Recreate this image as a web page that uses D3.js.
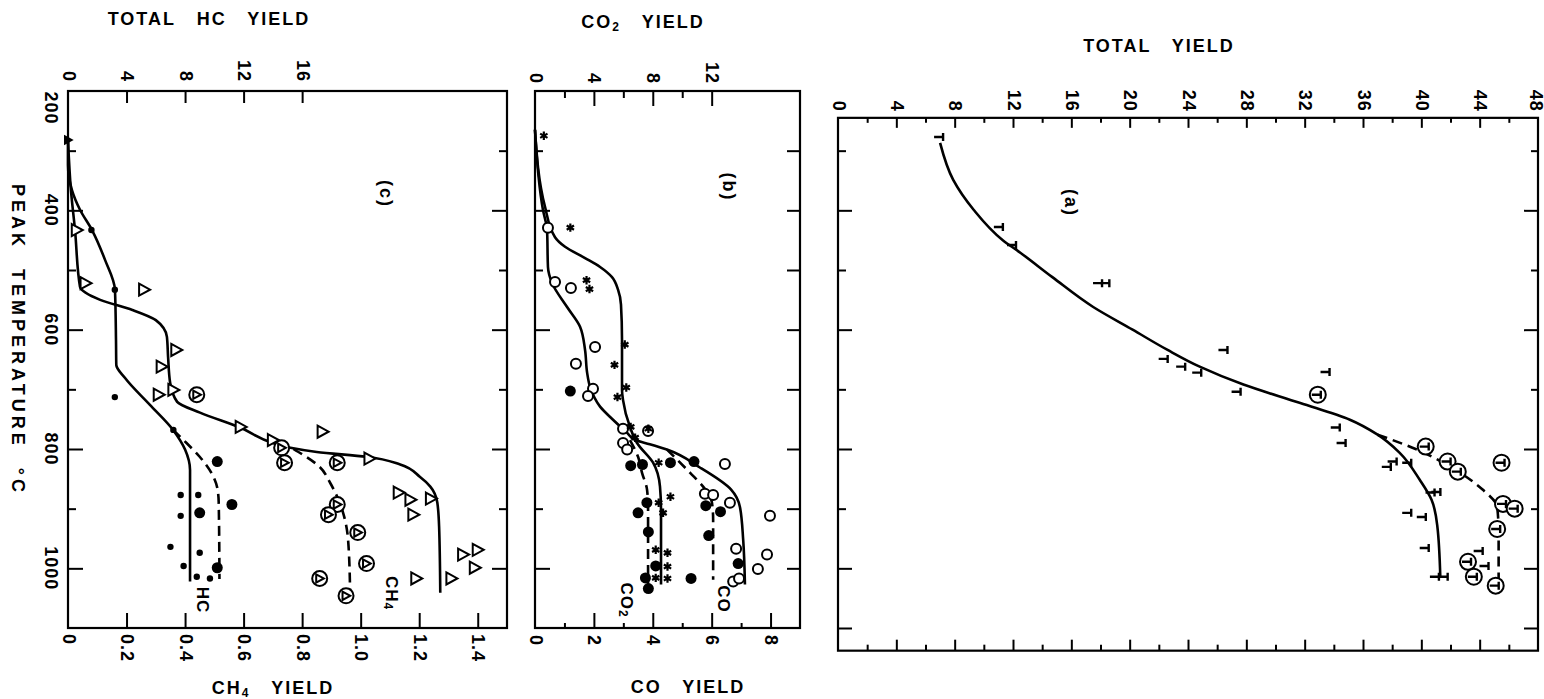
<!DOCTYPE html>
<html>
<head>
<meta charset="utf-8">
<script src="https://cdn.jsdelivr.net/npm/d3@7"></script>
<style>
body { margin: 0; background: #fff; }
svg text { font-family: "Liberation Sans", Arial, sans-serif; font-weight: bold; fill: #000; }
.tick line { stroke: #000; stroke-width: 2; }
.tick text { font-size: 18px; letter-spacing: 1px; }
.title { font-size: 18px; letter-spacing: 2px; word-spacing: 14px; }
</style>
</head>
<body>
<script>
// all pairs are [peak temperature °C, yield]

// panel (c): total hydrocarbons (top axis) and methane (bottom axis)
var hcDots = [[433,1.6],[533,3.2],[713,3.2],[768,7.2],[877,7.7],[877,8.9],[912,7.7],[964,7.0],[974,9.0],[996,7.9],[1014,8.8],[1017,9.7]];
var hcBigDots = [[821,10.2],[893,11.2],[907,9.0],[999,10.2]];
var ch4Zero = [[282,0.0]];
var ch4Tri = [[433,0.03],[522,0.06],[533,0.26],[634,0.37],[662,0.32],[701,0.36],[709,0.31],[763,0.59],[771,0.87],[785,0.70],[816,1.03],[873,1.13],[885,1.17],[910,1.18],[883,1.24],[977,1.35],[969,1.40],[999,1.39],[1017,1.19],[1017,1.31]];
var ch4CircTri = [[709,0.44],[798,0.73],[823,0.74],[823,0.92],[893,0.92],[910,0.89],[940,0.99],[992,1.02],[1017,0.86],[1046,0.95]];
var hcSolid = [[282,0],[324,0],[366,0.27],[399,0.82],[433,1.64],[483,2.53],[533,3.21],[617,3.28],[659,3.3],[681,3.9],[726,5.6],[768,7.18],[801,8.0],[835,8.34],[1022,8.34]];
var hcDashed = [[768,7.18],[790,8.1],[813,9.0],[840,9.8],[865,10.2],[890,10.3],[1018,10.35]];
var ch4Solid = [[282,0],[366,0.01],[433,0.024],[528,0.041],[550,0.11],[567,0.22],[584,0.30],[612,0.338],[646,0.342],[689,0.349],[721,0.373],[739,0.451],[764,0.588],[790,0.70],[798,0.76],[805,0.85],[813,1.02],[826,1.135],[847,1.203],[863,1.238],[890,1.262],[930,1.268],[1041,1.272]];
var ch4Dashed = [[800,0.77],[830,0.86],[857,0.896],[907,0.94],[952,0.957],[1041,0.964]];

// panel (b): CO2 (top axis) and CO (bottom axis)
var co2Stars = [[275,0.6],[429,2.4],[517,3.5],[532,3.7],[625,6.1],[659,5.4],[697,6.2],[713,5.6],[763,6.5],[766,7.7],[781,6.8],[823,8.4],[880,9.2],[890,8.4],[907,8.7],[969,8.2],[974,9.0],[997,9.0],[1016,8.2],[1017,9.0]];
var co2BigDots = [[703,2.4],[828,6.5],[826,7.3],[823,9.2],[890,7.6],[907,7.0],[939,7.7],[996,8.2],[1016,7.5],[1034,7.7]];
var coBigDots = [[821,5.4],[895,5.8],[905,6.3],[945,5.9],[992,6.9],[1017,5.3]];
var coCircles = [[429,0.44],[520,0.68],[530,1.22],[629,2.04],[657,1.39],[699,1.97],[711,1.80],[766,2.99],[770,3.84],[790,2.99],[801,3.13],[825,6.45],[875,5.77],[877,6.05],[890,6.62],[912,7.98],[967,6.83],[977,7.88],[1001,7.57],[1022,6.73],[1017,6.93]];
var co2Solid = [[265,0],[394,0.68],[445,1.36],[461,2.04],[480,3.40],[495,4.42],[512,5.23],[533,5.64],[558,5.84],[617,5.91],[701,5.91],[718,5.98],[763,6.45],[790,6.93],[823,8.02],[863,8.49],[902,8.56],[1027,8.56]];
var co2Dashed = [[785,6.45],[813,7.0],[840,7.27],[868,7.61],[897,7.68],[1030,7.68]];
var coSolid = [[265,0],[399,0.27],[433,0.41],[495,0.44],[522,0.58],[562,1.09],[595,1.53],[634,1.70],[672,1.77],[696,1.87],[729,2.21],[751,2.65],[773,3.13],[785,3.4],[792,3.9],[801,4.48],[831,5.60],[868,6.66],[897,6.96],[952,7.07],[1027,7.13]];
var coDashed = [[801,4.48],[840,5.27],[863,5.71],[890,6.01],[918,6.05],[1019,6.05]];

// panel (a): total yield
var totT = [[277,7.0],[428,11.1],[458,12.0],[522,17.9],[522,18.4],[649,22.4],[662,23.6],[672,24.7],[634,26.5],[704,27.4],[671,33.5],[764,34.2],[790,34.6],[830,37.7],[821,38.1],[823,39.1],[873,40.7],[872,41.1],[907,39.1],[914,40.1],[966,40.3],[971,44.0],[996,44.4],[1014,41.0],[1014,41.6]];
var totCircT = [[709,32.9],[796,40.3],[821,41.8],[838,42.5],[823,45.5],[892,45.6],[900,46.4],[934,45.2],[989,43.2],[1014,43.6],[1029,45.1]];
var totSolid = [[287,7.0],[349,7.9],[399,9.3],[450,11.3],[471,12.5],[512,14.7],[562,17.5],[600,20.2],[634,22.6],[662,24.8],[692,27.8],[723,31.7],[751,35.1],[776,37.0],[806,38.5],[852,39.9],[885,40.7],[930,41.1],[1014,41.3]];
var totDashed = [[776,37.0],[801,39.7],[830,42.0],[868,44.2],[897,45.2],[940,45.3],[1019,45.3]];

// ticks
var tempLabels = [200,400,600,800,1000];
var tempMajor = [400,600,800,1000];
var tempMinor = [300,500,700,900];
var hcLabels = [0,4,8,12,16];
var hcMajor = [4,8,12,16];
var ch4Labels = [0,0.2,0.4,0.6,0.8,1.0,1.2,1.4];
var co2Labels = [0,4,8,12];
var co2Major = [4,8,12];
var co2Minor = [2,6,10];
var coLabels = [0,2,4,6,8];
var coMajor = [2,4,6,8];
var coMinor = [1,3,5,7];
var totLabels = [0,4,8,12,16,20,24,28,32,36,40,44,48];
var totMajor = [4,8,12,16,20,24,28,32,36,40,44];
var totMinor = [2,6,10,14,18,22,26,30,34,38,42,46];

var svg = d3.select("body").append("svg").attr("width", 1544).attr("height", 699);

var yT = d3.scaleLinear().domain([200, 1100]).range([91, 628]);
var aTop = 245, aBottom = 1138;

var xHC = d3.scaleLinear().domain([0, 30]).range([68, 507]);
var xCH4 = d3.scaleLinear().domain([0, 1.5]).range([68, 507]);
var xCO2 = d3.scaleLinear().domain([0, 18]).range([535, 800]);
var xCO = d3.scaleLinear().domain([0, 9]).range([535, 800]);
var xTot = d3.scaleLinear().domain([0, 48]).range([838, 1538]);

// one axis call; labels (if any) turned to read downwards
function axis(gen, scale, tx, ty, values, len, labels, off) {
    var g = svg.append("g").attr("transform", "translate(" + tx + "," + ty + ")")
        .call(gen(scale).tickValues(values).tickSize(-len).tickSizeOuter(0)
            .tickFormat(labels ? labels : ""));
    g.attr("font-size", null).attr("font-family", null);
    g.select(".domain").remove();
    if (labels) {
        g.selectAll(".tick text")
            .attr("x", null).attr("y", null).attr("dy", null)
            .attr("dominant-baseline", "central")
            .attr("text-anchor", off < 0 ? "end" : "start")
            .attr("transform", "translate(0," + off + ") rotate(90)");
    }
    return g;
}
function hideLines(g) { g.selectAll("line").remove(); return g; }

function frame(x0, x1, t0, t1) {
    svg.append("rect").attr("x", x0).attr("y", yT(t0))
        .attr("width", x1 - x0).attr("height", yT(t1) - yT(t0))
        .attr("fill", "none").attr("stroke", "#000").attr("stroke-width", 2.2);
}

// ---- frames
frame(xHC(0), xHC(30), 200, 1100);
frame(xCO2(0), xCO2(18), 200, 1100);
frame(xTot(0), xTot(48), aTop, aBottom);

// ---- temperature ticks
[[68, d3.axisLeft], [507, d3.axisRight], [535, d3.axisLeft]].forEach(function (p) {
    axis(p[1], yT, p[0], 0, tempMajor, 15);
    axis(p[1], yT, p[0], 0, tempMinor, 8);
});
axis(d3.axisRight, yT, 800, 0, tempMajor.concat(tempMinor), 13);
axis(d3.axisLeft, yT, 838, 0, tempMajor.concat([1100]), 14);
axis(d3.axisLeft, yT, 838, 0, tempMinor, 8);
axis(d3.axisRight, yT, 1538, 0, tempMajor.concat([1100]), 14);
axis(d3.axisRight, yT, 1538, 0, tempMinor, 7);

// temperature labels, read downwards
svg.append("g").selectAll("text").data(tempLabels).join("text")
    .attr("font-size", 18).style("letter-spacing", "1px")
    .attr("text-anchor", "middle").attr("dominant-baseline", "central")
    .attr("transform", function (d) { return "translate(51," + Math.max(yT(d), yT(200) + 17) + ") rotate(90)"; })
    .text(function (d) { return d; });

// ---- panel (c) axes
axis(d3.axisTop, xHC, 0, yT(200), hcMajor, 12);
hideLines(axis(d3.axisTop, xHC, 0, yT(200), hcLabels, 0, function (d) { return d; }, -9));
axis(d3.axisBottom, xCH4, 0, yT(1100), ch4Labels.slice(1), 15);
hideLines(axis(d3.axisBottom, xCH4, 0, yT(1100), ch4Labels, 0, function (d) { return d === 0 ? "0" : d.toFixed(1); }, 6));

// ---- panel (b) axes
axis(d3.axisTop, xCO2, 0, yT(200), co2Major, 15);
axis(d3.axisTop, xCO2, 0, yT(200), co2Minor, 7);
hideLines(axis(d3.axisTop, xCO2, 0, yT(200), co2Labels, 0, function (d) { return d; }, -7));
axis(d3.axisBottom, xCO, 0, yT(1100), coMajor, 15);
axis(d3.axisBottom, xCO, 0, yT(1100), coMinor, 5);
hideLines(axis(d3.axisBottom, xCO, 0, yT(1100), coLabels, 0, function (d) { return d; }, 7));

// ---- panel (a) axes
axis(d3.axisTop, xTot, 0, yT(aTop), totMajor, 10);
axis(d3.axisTop, xTot, 0, yT(aTop), totMinor, 5);
hideLines(axis(d3.axisTop, xTot, 0, yT(aTop), totLabels, 0, function (d) { return d; }, -6))
    .selectAll(".tick").filter(function (d) { return d === 48; })
    .select("text").attr("transform", "translate(-3,-6) rotate(90)");
axis(d3.axisBottom, xTot, 0, yT(aBottom), totMajor, 11);
axis(d3.axisBottom, xTot, 0, yT(aBottom), totMinor, 6);

// ---- titles
function title(x, y, parts) {
    var t = svg.append("text").attr("class", "title").attr("x", x).attr("y", y)
        .attr("text-anchor", "middle").attr("dominant-baseline", "central");
    parts.forEach(function (p) {
        var s = t.append("tspan").text(p[0]);
        if (p[1]) s.attr("font-size", 12).attr("dy", 5);
        if (p[2]) s.attr("dy", -5);
    });
}
title(209, 19, [["TOTAL HC YIELD"]]);
title(643, 22, [["CO"], ["2", true], [" YIELD", false, true]]);
title(1159, 46, [["TOTAL YIELD"]]);
title(273, 688, [["CH"], ["4", true], [" YIELD", false, true]]);
title(688, 687, [["CO YIELD"]]);

// rotated labels inside / beside the panels
function rlabel(x, y, parts, size, spacing) {
    var t = svg.append("text").attr("transform", "translate(" + x + "," + y + ") rotate(90)")
        .attr("text-anchor", "middle").attr("dominant-baseline", "central")
        .attr("font-size", size).style("letter-spacing", spacing + "px").style("word-spacing", "10px");
    parts.forEach(function (p) {
        var s = t.append("tspan").text(p[0]);
        if (p[1]) s.attr("font-size", 12).attr("dy", 4);
    });
}
rlabel(18, 340, [["PEAK TEMPERATURE °C"]], 18, 4);
rlabel(386, 194, [["(c)"]], 18, 2);
rlabel(729, 187, [["(b)"]], 18, 2);
rlabel(1071, 203, [["(a)"]], 18, 2);
rlabel(203, 600, [["HC"]], 17, 1);
rlabel(392, 593, [["CH"], ["4", true]], 17, 1);
rlabel(724, 599, [["CO"]], 17, 1);
rlabel(627, 600, [["CO"], ["2", true]], 17, 1);

// ---- curves
function curve(data, xs, dashed) {
    svg.append("path").datum(data)
        .attr("d", d3.line().x(function (d) { return xs(d[1]); }).y(function (d) { return yT(d[0]); }).curve(d3.curveMonotoneY))
        .attr("fill", "none").attr("stroke", "#000").attr("stroke-width", 2.6)
        .attr("stroke-dasharray", dashed ? "10,6" : null);
}
curve(hcSolid, xHC); curve(hcDashed, xHC, true);
curve(ch4Solid, xCH4); curve(ch4Dashed, xCH4, true);
curve(co2Solid, xCO2); curve(co2Dashed, xCO2, true);
curve(coSolid, xCO); curve(coDashed, xCO, true);
curve(totSolid, xTot); curve(totDashed, xTot, true);

// ---- markers
function marks(data, xs, draw) {
    svg.append("g").selectAll("g").data(data).join("g")
        .attr("transform", function (d) { return "translate(" + xs(d[1]) + "," + yT(d[0]) + ")"; })
        .each(function () { draw(d3.select(this)); });
}
function tri(g, s, fill) {
    g.append("path").attr("d", "M" + (-5 * s) + "," + (-6 * s) + "L" + (6 * s) + ",0L" + (-5 * s) + "," + (6 * s) + "Z")
        .attr("fill", fill || "#fff").attr("stroke", "#000").attr("stroke-width", 2);
}
function ring(g, r) {
    g.append("circle").attr("r", r).attr("fill", "#fff").attr("stroke", "#000").attr("stroke-width", 2);
}
function tee(g) {
    g.append("path").attr("d", "M-6,0H3M3,-4V4").attr("fill", "none").attr("stroke", "#000").attr("stroke-width", 2.4);
}

marks(ch4Zero, xCH4, function (g) { tri(g, 0.6, "#000"); });
marks(ch4Tri, xCH4, function (g) { tri(g, 1); });
marks(ch4CircTri, xCH4, function (g) { ring(g, 7.5); tri(g, 0.7); });
marks(hcDots, xHC, function (g) { g.append("circle").attr("r", 3.2).attr("fill", "#000"); });
marks(hcBigDots, xHC, function (g) { g.append("circle").attr("r", 5.5).attr("fill", "#000"); });

marks(coCircles, xCO, function (g) { ring(g, 5); });
marks(co2BigDots, xCO2, function (g) { g.append("circle").attr("r", 5.5).attr("fill", "#000"); });
marks(coBigDots, xCO, function (g) { g.append("circle").attr("r", 5.5).attr("fill", "#000"); });
marks(co2Stars, xCO2, function (g) {
    g.append("path").attr("d", d3.symbol().type(d3.symbolAsterisk).size(50)())
        .attr("stroke", "#000").attr("stroke-width", 2.2).attr("fill", "none");
});

marks(totT, xTot, function (g) { tee(g); });
marks(totCircT, xTot, function (g) { ring(g, 8); tee(g); });
</script>
</body>
</html>
